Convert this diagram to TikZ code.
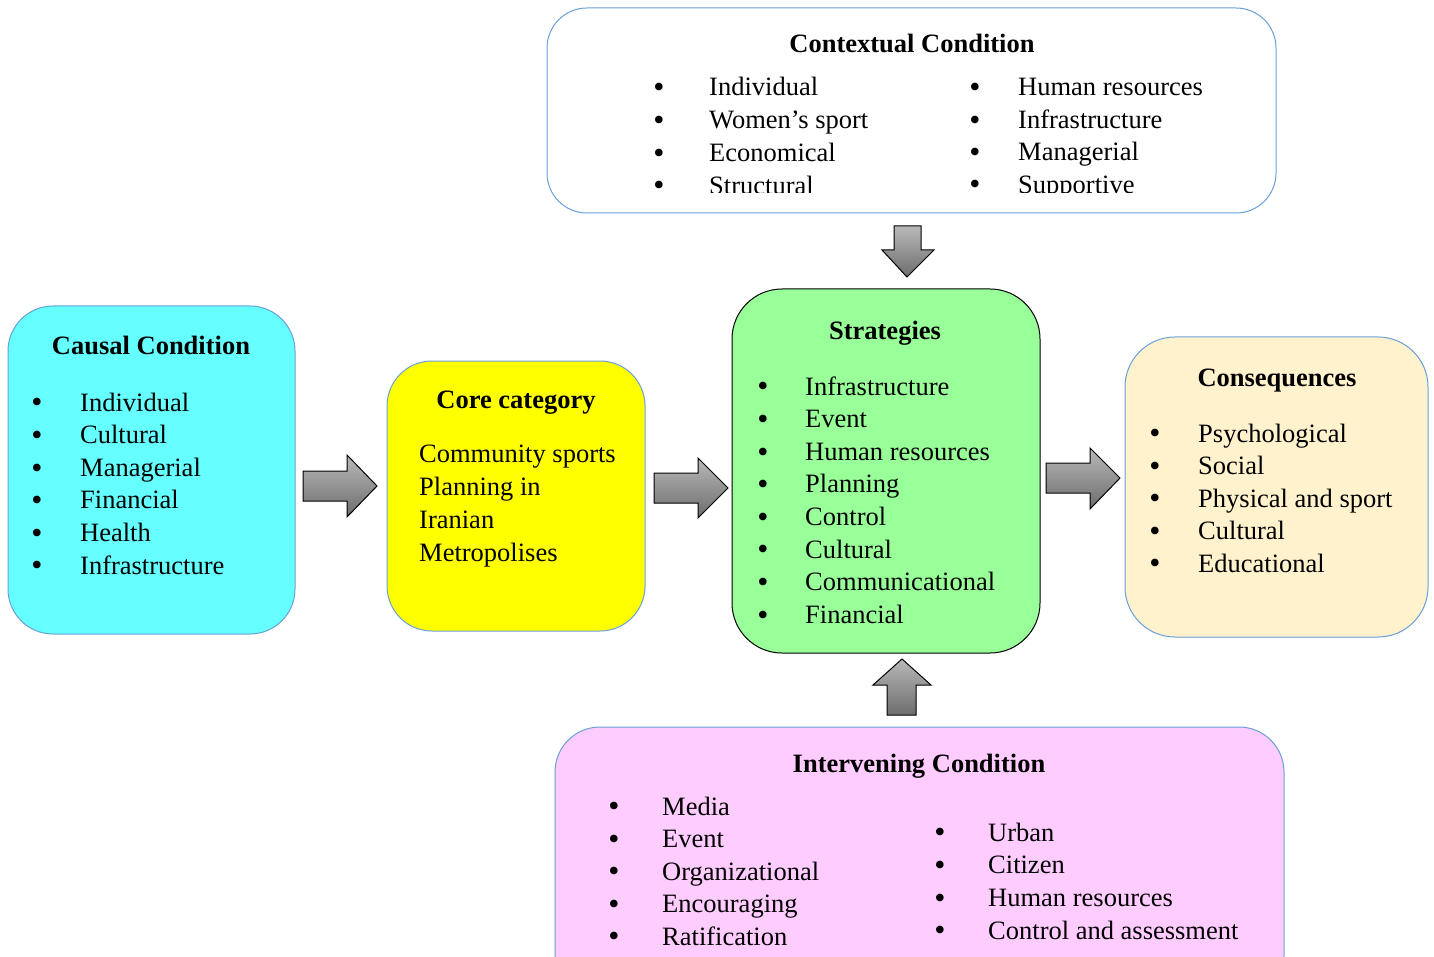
\documentclass[tikz,border=0pt]{standalone}
\usepackage{fontspec}
\usepackage{graphicx}
\setmainfont{Liberation Serif}
\definecolor{bordblue}{HTML}{6A9FD8}
\definecolor{cyanfill}{HTML}{66FFFF}
\definecolor{yelfill}{HTML}{FFFF00}
\definecolor{grnfill}{HTML}{99FF99}
\definecolor{peachfill}{HTML}{FFF2CC}
\definecolor{pinkfill}{HTML}{FFCCFF}
\newcommand{\bigbul}{\scalebox{1.2}{\textbullet}}
\tikzset{
  panel/.style={draw=bordblue, line width=1pt},
  ttl/.style={anchor=base, inner sep=0pt, font=\fontsize{26.5}{30}\selectfont\bfseries},
  itm/.style={anchor=base west, inner sep=0pt, font=\fontsize{26.5}{30}\selectfont},
  bul/.style={anchor=base, inner sep=0pt, yshift=-1.8pt, font=\fontsize{26.5}{30}\selectfont},
  blockarrow/.style={draw=black, line width=1pt, top color=gray!55, bottom color=gray!85!black, line join=miter},
}
\begin{document}
\begin{tikzpicture}[x=1pt,y=-1pt]
\useasboundingbox (0,0) rectangle (1434,957);
\clip (0,0) rectangle (1434,957);

% ---------- Contextual Condition ----------
\draw[panel, fill=white, rounded corners=40pt] (547,8) rectangle (1276,213);
\node[ttl] (ctxT) at (912,53) {Contextual Condition};
\begin{scope}
\clip (547,0) rectangle (1276,193);
\foreach \t [count=\i] in {Individual,Women’s sport,Economical,Structural}{
  \pgfmathsetmacro{\yy}{87+32.7*(\i-1)+9}
  \node[bul] (ctxLb\i) at (659,\yy) {\bigbul};
  \node[itm] (ctxL\i) at (709,\yy) {\t};
}
\foreach \t [count=\i] in {Human resources,Infrastructure,Managerial,Supportive}{
  \pgfmathsetmacro{\yy}{87+32.4*(\i-1)+9}
  \node[bul] (ctxRb\i) at (975,\yy) {\bigbul};
  \node[itm] (ctxR\i) at (1018,\yy) {\t};
}
\end{scope}

% ---------- Causal Condition ----------
\draw[panel, fill=cyanfill, rounded corners=45pt] (8,306) rectangle (295,634);
\node[ttl] (causT) at (151,355) {Causal Condition};
\foreach \t [count=\i] in {Individual,Cultural,Managerial,Financial,Health,Infrastructure}{
  \pgfmathsetmacro{\yy}{402+32.6*(\i-1)+9}
  \node[bul] (causb\i) at (37,\yy) {\bigbul};
  \node[itm] (caus\i) at (80,\yy) {\t};
}

% ---------- Core category ----------
\draw[panel, fill=yelfill, rounded corners=45pt] (387,361) rectangle (645,631);
\node[ttl] (coreT) at (516,408) {Core category};
\foreach \t [count=\i] in {Community sports,Planning in,Iranian,Metropolises}{
  \pgfmathsetmacro{\yy}{453+33.3*(\i-1)+9}
  \node[itm] (core\i) at (419,\yy) {\t};
}

% ---------- Strategies ----------
\draw[draw=black, line width=1pt, fill=grnfill, rounded corners=50pt] (732,289) rectangle (1040,653);
\node[ttl] (strT) at (885,339) {Strategies};
\foreach \t [count=\i] in {Infrastructure,Event,Human resources,Planning,Control,Cultural,Communicational,Financial}{
  \pgfmathsetmacro{\yy}{386+32.6*(\i-1)+9}
  \node[bul] (strb\i) at (763,\yy) {\bigbul};
  \node[itm] (str\i) at (805,\yy) {\t};
}

% ---------- Consequences ----------
\draw[panel, fill=peachfill, rounded corners=50pt] (1125,337) rectangle (1428,637);
\node[ttl] (consT) at (1277,386) {Consequences};
\foreach \t [count=\i] in {Psychological,Social,Physical and sport,Cultural,Educational}{
  \pgfmathsetmacro{\yy}{433+32.5*(\i-1)+9}
  \node[bul] (consb\i) at (1155,\yy) {\bigbul};
  \node[itm] (cons\i) at (1198,\yy) {\t};
}

% ---------- Intervening Condition ----------
\draw[panel, fill=pinkfill, rounded corners=45pt] (555,727) rectangle (1284,1000);
\node[ttl] (intT) at (919,772) {Intervening Condition};
\foreach \t [count=\i] in {Media,Event,Organizational,Encouraging,Ratification}{
  \pgfmathsetmacro{\yy}{806+32.5*(\i-1)+9}
  \node[bul] (intLb\i) at (614,\yy) {\bigbul};
  \node[itm] (intL\i) at (662,\yy) {\t};
}
\foreach \t [count=\i] in {Urban,Citizen,Human resources,Control and assessment}{
  \pgfmathsetmacro{\yy}{832+32.7*(\i-1)+9}
  \node[bul] (intRb\i) at (940,\yy) {\bigbul};
  \node[itm] (intR\i) at (988,\yy) {\t};
}

% ---------- Block arrows ----------
% causal -> core
\path[blockarrow] (303,471) -- (347,471) -- (347,455) -- (377,486) -- (347,517) -- (347,501) -- (303,501) -- cycle;
% core -> strategies
\path[blockarrow] (654,473) -- (698,473) -- (698,458) -- (728,488) -- (698,518) -- (698,503) -- (654,503) -- cycle;
% strategies -> consequences
\path[blockarrow] (1046,463) -- (1090,463) -- (1090,448) -- (1120,478) -- (1090,509) -- (1090,493) -- (1046,493) -- cycle;
% contextual -> strategies
\path[blockarrow] (894,226) -- (921,226) -- (921,250) -- (934,250) -- (907,277) -- (882,250) -- (894,250) -- cycle;
% intervening -> strategies
\path[blockarrow] (887,715) -- (916,715) -- (916,685) -- (931,685) -- (902,659) -- (873,685) -- (887,685) -- cycle;
\end{tikzpicture}
\end{document}
